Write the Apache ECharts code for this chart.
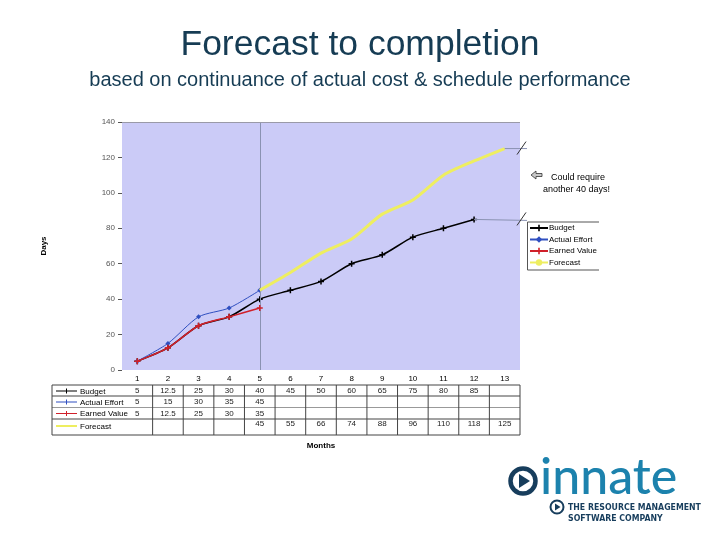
<!DOCTYPE html>
<html><head><meta charset="utf-8">
<script src="https://cdn.jsdelivr.net/npm/echarts@6/dist/echarts.min.js"></script>
<style>html,body{margin:0;padding:0;background:#fff}#c{width:720px;height:540px}</style>
</head><body><div id="c"></div>
<script>
const categories = ['1','2','3','4','5','6','7','8','9','10','11','12','13'];
const budget   = [5, 12.5, 25, 30, 40, 45, 50, 60, 65, 75, 80, 85, null];
const actual   = [5, 15, 30, 35, 45, null, null, null, null, null, null, null, null];
const earned   = [5, 12.5, 25, 30, 35, null, null, null, null, null, null, null, null];
const forecast = [null, null, null, null, 45, 55, 66, 74, 88, 96, 110, 118, 125];
const seriesNames = ['Budget', 'Actual Effort', 'Earned Value', 'Forecast'];
const yMin = 0, yMax = 140, yStep = 20;
const currentMonth = '5';

const FONT = 'Liberation Sans, Arial, sans-serif';
const colors = ['#000000', '#2f4fc0', '#d0202a', '#eeee60'];
const plusPath = 'path://M3,0h2v3h3v2h-3v3h-2v-3h-3v-2h3z';

const chart = echarts.init(document.getElementById('c'), null, {renderer: 'canvas'});
const option = {
  animation: false,
  backgroundColor: '#ffffff',
  textStyle: {fontFamily: FONT},
  title: [
    {text: 'Forecast to completion', left: 'center', top: 22,
     textStyle: {fontSize: 35.5, fontWeight: 'normal', color: '#163c54', fontFamily: FONT}},
    {text: 'based on continuance of actual cost & schedule performance', left: 'center', top: 65,
     textStyle: {fontSize: 20, fontWeight: 'normal', color: '#163c54', fontFamily: FONT}}
  ],
  grid: {left: 122, right: 200, top: 122, bottom: 170, show: true,
         backgroundColor: '#cbcbf7', borderWidth: 0},
  legend: {
    orient: 'vertical', left: 529, top: 224, itemGap: 3.5, itemWidth: 18, itemHeight: 8,
    data: seriesNames, padding: 0,
    textStyle: {fontSize: 8, color: '#000', fontFamily: FONT, padding: [0, 0, 0, -4]}
  },
  xAxis: {
    type: 'category', data: categories, boundaryGap: true,
    name: 'Months', nameLocation: 'middle', nameGap: 72,
    nameTextStyle: {fontSize: 8, fontWeight: 'bold', color: '#000'},
    axisLine: {show: false}, axisTick: {show: false},
    axisLabel: {fontSize: 8, color: '#000', margin: 5}
  },
  yAxis: {
    type: 'value', min: yMin, max: yMax, interval: yStep,
    name: 'Days', nameLocation: 'middle', nameGap: 74,
    nameTextStyle: {fontSize: 8, fontWeight: 'bold', color: '#000'},
    axisLine: {show: false},
    axisTick: {show: true, length: 4, lineStyle: {color: '#555'}},
    axisLabel: {fontSize: 8, color: '#555', margin: 7},
    splitLine: {show: false}
  },
  series: [
    {name: seriesNames[0], type: 'line', data: budget, smooth: 0.25, connectNulls: false,
     symbol: plusPath, symbolSize: 6, color: colors[0], lineStyle: {width: 1.5, color: colors[0]},
     itemStyle: {color: colors[0]}, z: 3,
     markLine: {silent: true, symbol: 'none', label: {show: false},
       lineStyle: {color: '#8a92b2', width: 1, type: 'solid'},
       data: [{xAxis: currentMonth}, {yAxis: yMax, lineStyle: {color: '#9a9aa8'}}]}},
    {name: seriesNames[1], type: 'line', data: actual, smooth: 0.25,
     symbol: 'diamond', symbolSize: 5, color: colors[1], lineStyle: {width: 1, color: colors[1]},
     itemStyle: {color: colors[1]}, z: 4},
    {name: seriesNames[2], type: 'line', data: earned, smooth: 0.25,
     symbol: plusPath, symbolSize: 6, color: colors[2], lineStyle: {width: 1.5, color: colors[2]},
     itemStyle: {color: colors[2]}, z: 5},
    {name: seriesNames[3], type: 'line', data: forecast, smooth: 0.25,
     symbol: 'none', color: colors[3], lineStyle: {width: 3, color: colors[3]},
     itemStyle: {color: colors[3]}, z: 6}
  ]
};
chart.setOption(option);

// ---- decorations computed from axes ----
const g = [];
const px = (i, v) => chart.convertToPixel({xAxisIndex: 0, yAxisIndex: 0}, [i, v]);
const step = px(1, 0)[0] - px(0, 0)[0];
const rightX = 527;

function extension(idx, val, dy) {
  const p = px(idx, val);
  g.push({type: 'line', shape: {x1: p[0], y1: p[1], x2: rightX, y2: p[1] + dy}, style: {stroke: '#8a92b2', lineWidth: 1}, z: 10});
  g.push({type: 'line', shape: {x1: 517, y1: p[1] + 6, x2: 526, y2: p[1] - 7}, style: {stroke: '#333', lineWidth: 1}, z: 10});
}
extension(12, forecast[12], 0);
extension(11, budget[11], 1);

g.push({type: 'polyline', shape: {points: [[599, 222], [527.5, 222], [527.5, 270], [599, 270]]}, style: {stroke: '#555', fill: null, lineWidth: 1}});

g.push({type: 'polygon', shape: {points: [[531, 175], [536, 171], [536, 173.5], [542, 173.5], [542, 176.5], [536, 176.5], [536, 179]]},
        style: {fill: '#c8c8c8', stroke: '#333', lineWidth: 0.8}});
g.push({type: 'text', style: {text: 'Could require', x: 551, y: 178, fill: '#000', font: '9px ' + FONT, textVerticalAlign: 'middle'}});
g.push({type: 'text', style: {text: 'another 40 days!', x: 543, y: 189.5, fill: '#000', font: '9px ' + FONT, textVerticalAlign: 'middle'}});

// data table
const tLeft = 52, tRight = px(12, 0)[0] + step / 2;
const rowLines = [385, 396, 407.5, 419, 435];
const rowCenters = [391, 402, 413.5, 426];
const rows = [budget, actual, earned, forecast];
const lineC = '#444';
rowLines.forEach((y, k) => {
  g.push({type: 'line', shape: {x1: tLeft, y1: y, x2: tRight, y2: y}, style: {stroke: (k === 2) ? '#999' : lineC, lineWidth: 1}});
});
g.push({type: 'line', shape: {x1: tLeft, y1: rowLines[0], x2: tLeft, y2: rowLines[4]}, style: {stroke: lineC, lineWidth: 1}});
for (let i = 0; i < categories.length; i++) {
  const bx = px(i, 0)[0] + step / 2;
  g.push({type: 'line', shape: {x1: bx, y1: rowLines[0], x2: bx, y2: rowLines[4]}, style: {stroke: lineC, lineWidth: 1}});
}
rows.forEach((arr, r) => {
  const y = rowCenters[r];
  g.push({type: 'line', shape: {x1: 56, y1: y, x2: 77, y2: y}, style: {stroke: colors[r], lineWidth: r === 3 ? 2 : 1}});
  if (r < 3) g.push({type: 'line', shape: {x1: 66.5, y1: y - 2.5, x2: 66.5, y2: y + 2.5}, style: {stroke: colors[r], lineWidth: 1}});
  g.push({type: 'text', style: {text: seriesNames[r], x: 80, y: y + 0.5, fill: '#000', font: '8px ' + FONT, textVerticalAlign: 'middle'}});
  arr.forEach((v, i) => {
    if (v === null) return;
    g.push({type: 'text', style: {text: String(v), x: px(i, 0)[0], y: y - (r === 3 ? 2 : 0), fill: '#222', font: '8px ' + FONT, textAlign: 'center', textVerticalAlign: 'middle'}});
  });
});

// logo
g.push({type: 'circle', shape: {cx: 523, cy: 481, r: 12.5}, style: {fill: null, stroke: '#173d5c', lineWidth: 4.5}});
g.push({type: 'polygon', shape: {points: [[519, 474], [530, 481], [519, 488]]}, style: {fill: '#173d5c'}});
g.push({type: 'text', style: {text: 'innate', x: 540, y: 478, fill: '#1c82ad', font: '500 50px Lato, sans-serif', textVerticalAlign: 'middle'}});
g.push({type: 'circle', shape: {cx: 557, cy: 507, r: 6.5}, style: {fill: null, stroke: '#173d5c', lineWidth: 2}});
g.push({type: 'polygon', shape: {points: [[555, 503.5], [560.5, 507], [555, 510.5]]}, style: {fill: '#173d5c'}});
g.push({type: 'text', style: {text: 'THE RESOURCE MANAGEMENT', x: 568, y: 508, fill: '#173d5c', font: 'bold 8.7px "Liberation Sans Narrow", "DejaVu Sans Condensed", sans-serif', textVerticalAlign: 'middle'}});
g.push({type: 'text', style: {text: 'SOFTWARE COMPANY', x: 568, y: 518.5, fill: '#173d5c', font: 'bold 8.7px "Liberation Sans Narrow", "DejaVu Sans Condensed", sans-serif', textVerticalAlign: 'middle'}});

chart.setOption({graphic: g});
</script></body></html>
